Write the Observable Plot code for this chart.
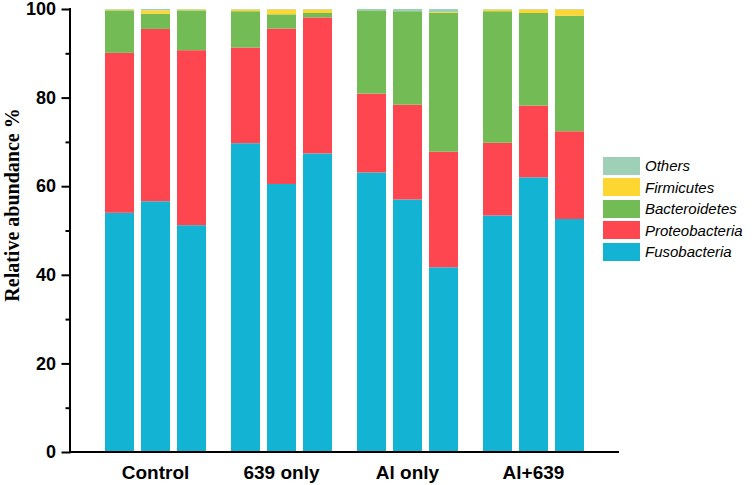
<!DOCTYPE html>
<html>
<head>
<meta charset="utf-8">
<script src="https://cdn.jsdelivr.net/npm/d3@7"></script>
<script src="https://cdn.jsdelivr.net/npm/@observablehq/plot@0.6"></script>
<style>
  html, body { margin: 0; padding: 0; background: #fff; }
  #wrap { position: relative; width: 755px; height: 485px; }
  #ytitle {
    position: absolute; left: 12px; top: 205px;
    transform: translate(-50%, -50%) rotate(-90deg);
    font-family: "Liberation Serif", "Times New Roman", serif;
    font-weight: bold; font-size: 20px; white-space: nowrap; color: #000;
  }
  #legend { position: absolute; left: 603px; top: 155px; }
  .item { display: flex; align-items: center; height: 21.5px; }
  .sw { width: 37px; height: 18px; margin-right: 5px; }
  .lab { font-family: "Liberation Sans", Arial, sans-serif; font-style: italic; font-size: 15px; color: #000; }
</style>
</head>
<body>
<div id="wrap">
  <div id="chart"></div>
  <div id="ytitle">Relative abundance %</div>
  <div id="legend"></div>
</div>
<script>
const groups = ["Control", "639 only", "Al only", "Al+639"];
const reps = [1, 2, 3];
const taxa = ["Fusobacteria", "Proteobacteria", "Bacteroidetes", "Firmicutes", "Others"];
const colors = ["#13b3d3", "#fe4651", "#73bb55", "#fed631", "#9dd0b6"];
const majorTicks = [0, 20, 40, 60, 80, 100];
const minorTicks = [10, 30, 50, 70, 90];

// 12 samples: 3 per group, in order
const fusobacteria   = [54.0, 56.6, 51.2, 69.7, 60.5, 67.4, 63.1, 57.0, 41.7, 53.4, 62.0, 52.6];
const proteobacteria = [36.1, 38.9, 39.5, 21.6, 35.1, 30.7, 17.8, 21.4, 26.1, 16.4, 16.2, 19.8];
const bacteroidetes  = [ 9.6,  3.4,  9.0,  8.2,  3.2,  1.0, 18.8, 21.1, 31.3, 29.7, 20.9, 26.1];
const firmicutes     = [ 0.2,  0.8,  0.2,  0.4,  1.1,  0.8,  0.0,  0.0,  0.2,  0.4,  0.8,  1.4];
const others         = [ 0.1,  0.3,  0.1,  0.1,  0.1,  0.1,  0.3,  0.5,  0.7,  0.1,  0.1,  0.1];

const series = [fusobacteria, proteobacteria, bacteroidetes, firmicutes, others];
const rows = [];
taxa.forEach((t, k) => {
  series[k].forEach((v, i) => {
    rows.push({taxon: t, group: groups[Math.floor(i / 3)], rep: reps[i % 3], value: v});
  });
});

const W = 755, H = 485, ML = 70, MR = 136, MT = 9, MB = 33;
const PI = 0.1875, PO = 0.265;
// offset of the first facet from the frame's left edge (so the y axis sits on the frame edge)
const fxStep = (W - ML - MR) / (groups.length - PI + 2 * PO);
const axisShift = -PO * fxStep;

const chart = Plot.plot({
  width: W, height: H,
  marginLeft: ML, marginRight: MR, marginTop: MT, marginBottom: MB,
  style: {fontFamily: "'Liberation Sans', Arial, sans-serif", background: "white", color: "black"},
  fx: {domain: groups, paddingInner: PI, paddingOuter: PO, label: null},
  x: {domain: reps, paddingInner: 0.2, paddingOuter: 0, axis: null},
  y: {domain: [0, 100]},
  color: {domain: taxa, range: colors},
  marks: [
    Plot.barY(rows, {fx: "group", x: "rep", y: "value", fill: "taxon"}),
    Plot.axisY({ticks: majorTicks, tickSize: 9, tickPadding: 6, fontSize: 18, fontWeight: "bold", label: null, strokeWidth: 2, dx: axisShift}),
    Plot.axisY({ticks: minorTicks, tickSize: 5, tickFormat: () => "", label: null, strokeWidth: 2, dx: axisShift}),
    Plot.axisFx({anchor: "bottom", tickSize: 0, tickPadding: 13, fontSize: 19, fontWeight: "bold", label: null})
  ]
});
document.getElementById("chart").appendChild(chart);

// axis lines
const ys = chart.scale("y");
const svg = d3.select(chart);
svg.append("line")
  .attr("x1", ML).attr("x2", W - MR)
  .attr("y1", ys.apply(0)).attr("y2", ys.apply(0))
  .attr("stroke", "black").attr("stroke-width", 2);
svg.append("line")
  .attr("x1", ML).attr("x2", ML)
  .attr("y1", ys.apply(100) - 1).attr("y2", ys.apply(0) + 1)
  .attr("stroke", "black").attr("stroke-width", 2);

// legend (top to bottom: reverse stacking order)
const legend = d3.select("#legend");
taxa.slice().reverse().forEach(t => {
  const it = legend.append("div").attr("class", "item");
  it.append("div").attr("class", "sw").style("background", colors[taxa.indexOf(t)]);
  it.append("div").attr("class", "lab").text(t);
});
</script>
</body>
</html>
